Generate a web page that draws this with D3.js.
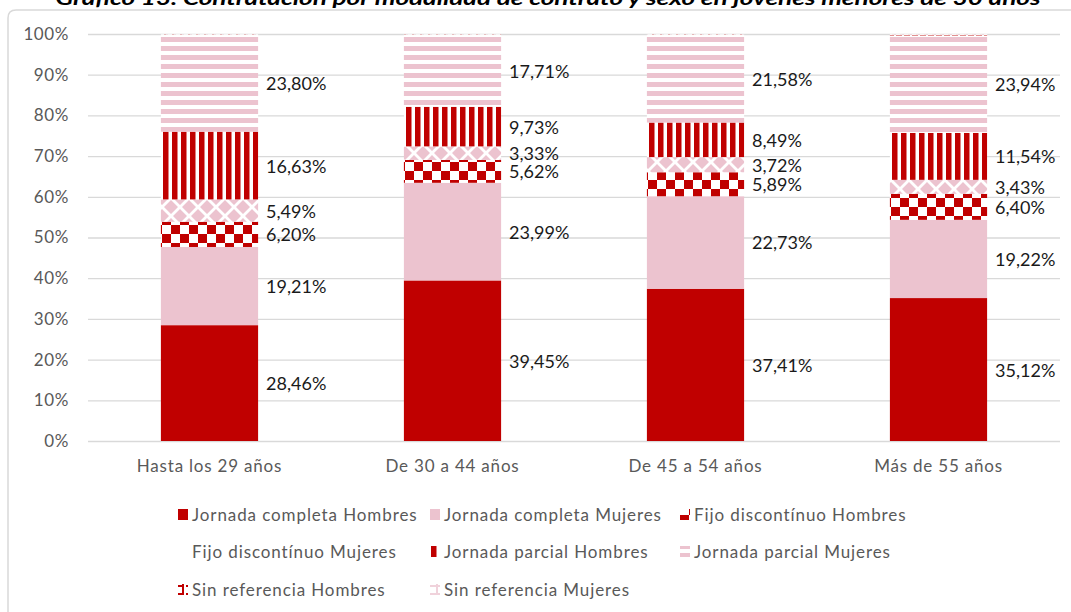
<!DOCTYPE html>
<html>
<head>
<meta charset="utf-8">
<script src="https://cdn.jsdelivr.net/npm/d3@7"></script>
<style>
	body { margin: 0; background: #fff; }
	svg { display: block; font-family: Lato, 'Open Sans', sans-serif; }
</style>
</head>
<body>
<svg id="chart" width="1071" height="612"></svg>
<script>
// categorias y valores (%)
const categorias = ['Hasta los 29 años', 'De 30 a 44 años', 'De 45 a 54 años', 'Más de 55 años']
const jcHombres = [28.46, 39.45, 37.41, 35.12]
const jcMujeres = [19.21, 23.99, 22.73, 19.22]
const fdHombres = [6.20, 5.62, 5.89, 6.40]
const fdMujeres = [5.49, 3.33, 3.72, 3.43]
const jpHombres = [16.63, 9.73, 8.49, 11.54]
const jpMujeres = [23.80, 17.71, 21.58, 23.94]
const srHombres = [0.10, 0.08, 0.09, 0.17]
const srMujeres = [0.11, 0.09, 0.09, 0.18]
const yTicks = [0, 10, 20, 30, 40, 50, 60, 70, 80, 90, 100]

const series = [
	{key: 'jcH', name: 'Jornada completa Hombres', values: jcHombres, fill: '#c00000', label: true},
	{key: 'jcM', name: 'Jornada completa Mujeres', values: jcMujeres, fill: '#ecc3cf', label: true},
	{key: 'fdH', name: 'Fijo discontínuo Hombres', values: fdHombres, fill: 'url(#pat-fdH)', label: true},
	{key: 'fdM', name: 'Fijo discontínuo Mujeres', values: fdMujeres, fill: 'url(#pat-fdM)', label: true},
	{key: 'jpH', name: 'Jornada parcial Hombres', values: jpHombres, fill: 'url(#pat-jpH)', label: true},
	{key: 'jpM', name: 'Jornada parcial Mujeres', values: jpMujeres, fill: 'url(#pat-jpM)', label: true},
	{key: 'srH', name: 'Sin referencia Hombres', values: srHombres, fill: 'url(#pat-srH)', label: false},
	{key: 'srM', name: 'Sin referencia Mujeres', values: srMujeres, fill: 'url(#pat-srM)', label: false}
]

const red = '#c00000', pink = '#ecc3cf'
const svg = d3.select('#chart')
const defs = svg.append('defs')

// patrones
let p = defs.append('pattern').attr('id', 'pat-fdH').attr('patternUnits', 'userSpaceOnUse')
	.attr('width', 18).attr('height', 18)
p.append('rect').attr('width', 18).attr('height', 18).attr('fill', '#fff')
p.append('rect').attr('width', 9).attr('height', 9).attr('fill', red)
p.append('rect').attr('x', 9).attr('y', 9).attr('width', 9).attr('height', 9).attr('fill', red)

p = defs.append('pattern').attr('id', 'pat-fdM').attr('patternUnits', 'userSpaceOnUse')
	.attr('width', 18).attr('height', 18)
p.append('rect').attr('width', 18).attr('height', 18).attr('fill', '#fff')
p.append('path').attr('d', 'M9,2 L16,9 L9,16 L2,9 Z M0,-7 L7,0 L0,7 L-7,0 Z M18,-7 L25,0 L18,7 L11,0 Z M0,11 L7,18 L0,25 L-7,18 Z M18,11 L25,18 L18,25 L11,18 Z')
	.attr('fill', pink)

p = defs.append('pattern').attr('id', 'pat-jpH').attr('patternUnits', 'userSpaceOnUse')
	.attr('width', 9).attr('height', 9)
p.append('rect').attr('width', 9).attr('height', 9).attr('fill', '#fff')
p.append('rect').attr('x', 1).attr('width', 5.5).attr('height', 9).attr('fill', red)

p = defs.append('pattern').attr('id', 'pat-jpM').attr('patternUnits', 'userSpaceOnUse')
	.attr('width', 9).attr('height', 9)
p.append('rect').attr('width', 9).attr('height', 9).attr('fill', '#fff')
p.append('rect').attr('y', 1).attr('width', 9).attr('height', 5).attr('fill', pink)

p = defs.append('pattern').attr('id', 'pat-srH').attr('patternUnits', 'userSpaceOnUse')
	.attr('width', 8).attr('height', 8)
p.append('rect').attr('width', 8).attr('height', 8).attr('fill', '#fff')
p.append('path').attr('d', 'M0,4 H6 M5,0 V8').attr('stroke', red).attr('stroke-width', 2)

p = defs.append('pattern').attr('id', 'pat-srM').attr('patternUnits', 'userSpaceOnUse')
	.attr('width', 8).attr('height', 8)
p.append('rect').attr('width', 8).attr('height', 8).attr('fill', '#fff')
p.append('path').attr('d', 'M0,4 H6 M7,0 V8').attr('stroke', pink).attr('stroke-width', 1.5)

// marco
svg.append('path').attr('d', 'M8,612 V18 Q8,10 16,10 H1071')
	.attr('fill', 'none').attr('stroke', '#d9d9d9').attr('stroke-width', 1.5)

// titulo (cortado arriba)
svg.append('text')
	.attr('x', 548).attr('y', 5)
	.attr('text-anchor', 'middle')
	.attr('font-size', 19).attr('font-weight', 'bold').attr('font-style', 'italic')
	.attr('fill', '#000')
	.attr('textLength', 985).attr('lengthAdjust', 'spacingAndGlyphs')
	.text('Gráfico 13. Contratación por modalidad de contrato y sexo en jóvenes menores de 30 años')

const x = d3.scaleBand().domain(categorias).range([88, 1060]).paddingInner(0.6).paddingOuter(0.3)
const y = d3.scaleLinear().domain([0, 100]).range([441, 34])

// rejilla
svg.append('g').selectAll('line').data(yTicks).enter().append('line')
	.attr('x1', 88).attr('x2', 1060)
	.attr('y1', d => y(d) + 0.5).attr('y2', d => y(d) + 0.5)
	.attr('stroke', '#d9d9d9').attr('stroke-width', 1.3)

const yAxis = svg.append('g').attr('transform', 'translate(74,0)')
	.call(d3.axisLeft(y).tickValues(yTicks).tickSize(0).tickPadding(5).tickFormat(d => d + '%'))
yAxis.select('.domain').remove()
yAxis.selectAll('text').attr('font-size', 17).attr('letter-spacing', 0.6)
	.attr('fill', '#595959').attr('font-family', 'Lato, sans-serif')

const xAxis = svg.append('g').attr('transform', 'translate(0,441)')
	.call(d3.axisBottom(x).tickSize(0).tickPadding(19))
xAxis.select('.domain').remove()
xAxis.selectAll('text').attr('font-size', 17).attr('letter-spacing', 0.8)
	.attr('fill', '#595959').attr('font-family', 'Lato, sans-serif')

// pila
const table = categorias.map((c, i) => {
	let row = {cat: c}
	series.forEach(s => { row[s.key] = s.values[i] })
	return row
})
const stacked = d3.stack().keys(series.map(s => s.key))(table)

const layers = svg.append('g').selectAll('g').data(stacked).enter().append('g')
	.attr('fill', (d, i) => series[i].fill)

layers.selectAll('rect').data(d => d).enter().append('rect')
	.attr('x', d => x(d.data.cat))
	.attr('width', x.bandwidth())
	.attr('y', d => y(d[1]))
	.attr('height', d => y(d[0]) - y(d[1]))

// etiquetas
const fmt = v => v.toFixed(2).replace('.', ',') + '%'
stacked.forEach((layer, i) => {
	if (!series[i].label) return
	svg.append('g').selectAll('text').data(layer).enter().append('text')
		.attr('x', d => x(d.data.cat) + x.bandwidth() + 8)
		.attr('y', d => y((d[0] + d[1]) / 2) + 7)
		.attr('font-size', 18).attr('fill', '#1a1a1a')
		.text(d => fmt(d.data[series[i].key]))
})

// leyenda
const legendPos = [
	[178, 515], [430, 515], [680, 515],
	[178, 552], [430, 552], [680, 552],
	[178, 590], [430, 590]
]
const legend = svg.append('g').selectAll('g').data(series).enter().append('g')
	.attr('transform', (d, i) => `translate(${legendPos[i][0]},${legendPos[i][1]})`)
legend.append('rect')
	.attr('x', 0).attr('y', -6).attr('width', 10).attr('height', 11)
	.attr('fill', d => d.key == 'fdM' ? 'none' : d.fill)
legend.append('text')
	.attr('x', 14).attr('y', 6)
	.attr('font-size', 17).attr('fill', '#595959').attr('letter-spacing', 0.9)
	.text(d => d.name)
</script>
</body>
</html>
